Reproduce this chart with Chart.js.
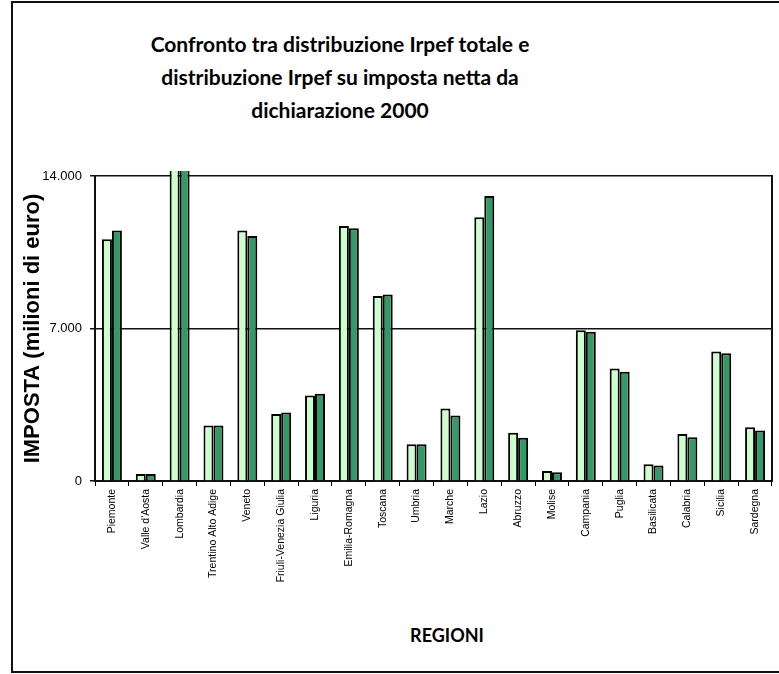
<!DOCTYPE html>
<html>
<head>
<meta charset="utf-8">
<title>Irpef 2000</title>
<script src="https://cdn.jsdelivr.net/npm/chart.js@4.4.0/dist/chart.umd.min.js"></script>
<style>
    html, body { margin: 0; padding: 0; background: #fff; overflow: hidden; }
    #frame { position: absolute; left: 11px; top: 1px; width: 820px; height: 672px; border: 2px solid #111; box-sizing: border-box; }
    #title { position: absolute; left: 90px; width: 500px; top: 27px; text-align: center; font: bold 21px Lato, sans-serif; line-height: 33px; color: #000; }
    #xtitle { position: absolute; left: 347px; width: 200px; top: 624px; text-align: center; font: bold 18px Lato, sans-serif; color: #000; }
    #chart { position: absolute; left: 0; top: 0; }
</style>
</head>
<body>
<div id="frame"></div>
<div id="title">Confronto tra distribuzione Irpef totale e<br>distribuzione Irpef su imposta netta da<br>dichiarazione 2000</div>
<div id="xtitle">REGIONI</div>
<canvas id="chart" width="779" height="674"></canvas>
<script>
// regioni
var regioni = ["Piemonte", "Valle d'Aosta", "Lombardia", "Trentino Alto Adige", "Veneto",
    "Friuli-Venezia Giulia", "Liguria", "Emilia-Romagna", "Toscana", "Umbria", "Marche",
    "Lazio", "Abruzzo", "Molise", "Campania", "Puglia", "Basilicata", "Calabria", "Sicilia", "Sardegna"];

// distribuzione Irpef totale (milioni di euro)
var irpefTotale = [11100, 320, 15600, 2550, 11500, 3080, 3930, 11710, 8490, 1690, 3330,
    12110, 2220, 460, 6920, 5160, 770, 2160, 5940, 2470];

// distribuzione Irpef su imposta netta
var irpefNetta = [11500, 320, 16000, 2550, 11250, 3140, 4000, 11600, 8560, 1690, 3010,
    13080, 1990, 400, 6850, 5020, 710, 2010, 5860, 2320];

var yTicks = [0, 7000, 14000];

function fmt(v) {
    return String(v).replace(/\B(?=(\d{3})+(?!\d))/g, '.');
}

var ctx = document.getElementById('chart');
new Chart(ctx, {
    type: 'bar',
    data: {
        labels: regioni,
        datasets: [
            {
                label: "Irpef totale",
                data: irpefTotale,
                backgroundColor: "#CCFFCC",
                borderColor: "#000",
                borderWidth: 2,
                clip: { left: 0, top: 5, right: 0, bottom: 0 }
            },
            {
                label: "Irpef imposta netta",
                data: irpefNetta,
                backgroundColor: "#339966",
                borderColor: "#000",
                borderWidth: 2,
                clip: { left: 0, top: 5, right: 0, bottom: 0 }
            }
        ]
    },
    options: {
        responsive: false,
        animation: false,
        categoryPercentage: 0.59,
        barPercentage: 1.0,
        layout: {
            padding: { left: 12, top: 176, right: 7, bottom: 0 }
        },
        plugins: {
            legend: { display: false },
            tooltip: { enabled: false }
        },
        scales: {
            x: {
                offset: true,
                grid: {
                    offset: true,
                    drawOnChartArea: false,
                    drawTicks: true,
                    tickLength: 5,
                    color: '#000',
                    lineWidth: 1
                },
                border: { display: true, color: '#111', width: 2 },
                ticks: {
                    autoSkip: false,
                    maxRotation: 90,
                    minRotation: 90,
                    padding: 3,
                    color: '#000',
                    font: { family: 'Liberation Sans, Arial, sans-serif', size: 10.5 }
                },
                afterFit: (scale) => {
                    scale.height = 193;
                }
            },
            y: {
                min: 0,
                max: 14000,
                afterBuildTicks: (scale) => {
                    scale.ticks = yTicks.map(function (v) { return { value: v }; });
                },
                grid: {
                    color: '#111',
                    lineWidth: 1.5,
                    tickLength: 5
                },
                border: { display: true, color: '#111', width: 2 },
                ticks: {
                    padding: 8,
                    color: '#000',
                    font: { family: 'Liberation Sans, Arial, sans-serif', size: 13 },
                    callback: function (v) { return fmt(v); }
                },
                title: {
                    display: true,
                    text: 'IMPOSTA (milioni di euro)',
                    color: '#000',
                    font: { family: 'Liberation Sans, Arial, sans-serif', size: 22, weight: 'bold' },
                    padding: { top: 8, bottom: 0 }
                },
                afterFit: (scale) => {
                    scale.width = 83;
                }
            },
            y2: {
                position: 'right',
                min: 0,
                max: 14000,
                ticks: { display: false },
                grid: { display: false, drawOnChartArea: false, drawTicks: false },
                border: { display: true, color: '#111', width: 2 },
                afterFit: (scale) => {
                    scale.width = 0;
                }
            }
        }
    }
});
</script>
</body>
</html>
